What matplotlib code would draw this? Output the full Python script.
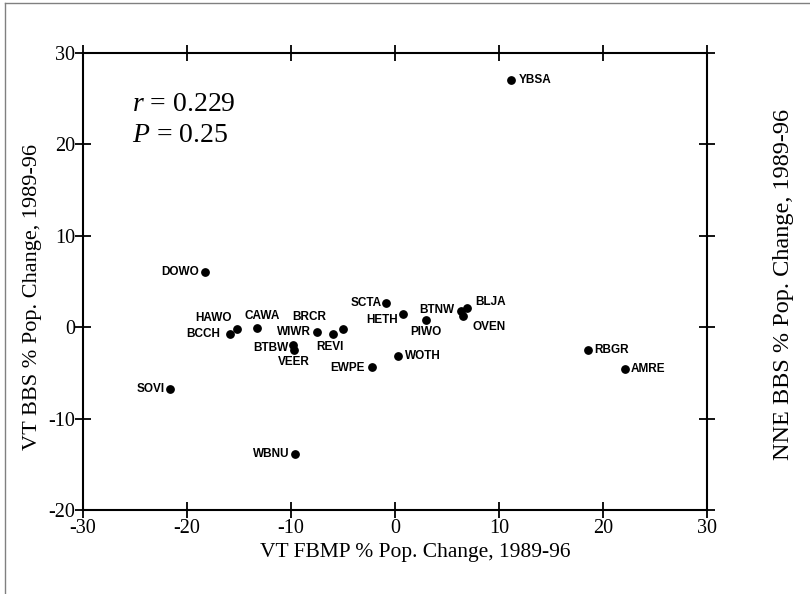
import matplotlib.pyplot as plt
from matplotlib.lines import Line2D

# species codes and % population change 1989-96
species = ['YBSA', 'DOWO', 'SOVI', 'WBNU', 'BCCH', 'HAWO', 'CAWA', 'WIWR',
           'BTBW', 'VEER', 'BRCR', 'REVI', 'SCTA', 'HETH', 'PIWO', 'BTNW',
           'BLJA', 'OVEN', 'WOTH', 'EWPE', 'RBGR', 'AMRE']
vt_fbmp = [11.2, -18.3, -21.6, -9.6, -15.9, -15.2, -13.3, -7.5,
           -9.8, -9.7, -6.0, -5.0, -0.9, 0.8, 3.0, 6.3,
           6.9, 6.5, 0.3, -2.2, 18.6, 22.1]
vt_bbs = [27.1, 6.0, -6.8, -13.9, -0.7, -0.2, -0.1, -0.5,
          -1.9, -2.5, -0.7, -0.2, 2.6, 1.4, 0.8, 1.75,
          2.1, 1.2, -3.2, -4.4, -2.5, -4.6]
r_val = 0.229
p_val = 0.25

# label offsets in pixels (dx, dy, ha)
offsets = {
    'YBSA': (7, 0, 'left'), 'DOWO': (-6, 0, 'right'), 'SOVI': (-6, 0, 'right'),
    'WBNU': (-6, 0, 'right'), 'BCCH': (-10, 0, 'right'), 'HAWO': (-5, 11, 'right'),
    'CAWA': (6, 12, 'center'), 'WIWR': (-6, 0, 'right'), 'BTBW': (-5, -3, 'right'),
    'VEER': (0, -12, 'center'), 'BRCR': (-6, 17, 'right'), 'REVI': (-13, -18, 'center'),
    'SCTA': (-4, 0, 'right'), 'HETH': (-5, -6, 'right'), 'PIWO': (0, -12, 'center'),
    'BTNW': (-6, 1, 'right'), 'BLJA': (8, 6, 'left'), 'OVEN': (10, -11, 'left'),
    'WOTH': (7, 0, 'left'), 'EWPE': (-7, -1, 'right'), 'RBGR': (6, 0, 'left'),
    'AMRE': (6, 0, 'left'),
}

plt.rcParams['font.family'] = 'Liberation Serif'
plt.rcParams['axes.unicode_minus'] = False
plt.rcParams['mathtext.fontset'] = 'custom'
plt.rcParams['mathtext.rm'] = 'Liberation Serif'
plt.rcParams['mathtext.it'] = 'Liberation Serif:italic'

fig = plt.figure(figsize=(8.1, 5.94), dpi=100)
ax = fig.add_axes([83/810, 1-510/594, 624/810, 457/594])

ax.scatter(vt_fbmp, vt_bbs, s=28, color='black', zorder=3)
for name, x, y in zip(species, vt_fbmp, vt_bbs):
    dx, dy, ha = offsets[name]
    ax.annotate(name, (x, y), xytext=(dx, dy), textcoords='offset pixels',
                ha=ha, va='center', fontsize=8.5, fontweight='bold',
                family='Liberation Sans')

ax.set_xlim(-30, 30)
ax.set_ylim(-20, 30)
ax.set_xticks(range(-30, 31, 10))
ax.set_yticks(range(-20, 31, 10))
for s in ax.spines.values():
    s.set_linewidth(1.5)
ax.tick_params(direction='inout', length=11, width=1.3, labelsize=14.5,
               top=True, right=True, pad=1)
ax.tick_params(axis='y', pad=0)

ax.text(-25.3, 24.4, r'$r$ = %.3f' % r_val, fontsize=20, va='center')
ax.text(-25.3, 21.0, r'$P$ = %.2f' % p_val, fontsize=20, va='center')

fig.text(415/810, 1-552/594, 'VT FBMP % Pop. Change, 1989-96',
         fontsize=15.5, ha='center', va='center')
fig.text(33/810, 1-297/594, 'VT BBS % Pop. Change, 1989-96',
         fontsize=16, ha='center', va='center', rotation=90)
fig.text(784/810, 1-284/594, 'NNE BBS % Pop. Change, 1989-96',
         fontsize=17.5, ha='center', va='center', rotation=90)

# scanned page border
fig.add_artist(Line2D([5/810, 5/810], [0, 1-3/594], color='gray', lw=1))
fig.add_artist(Line2D([5/810, 1], [1-3/594, 1-3/594], color='gray', lw=1))

plt.savefig('out.png')
